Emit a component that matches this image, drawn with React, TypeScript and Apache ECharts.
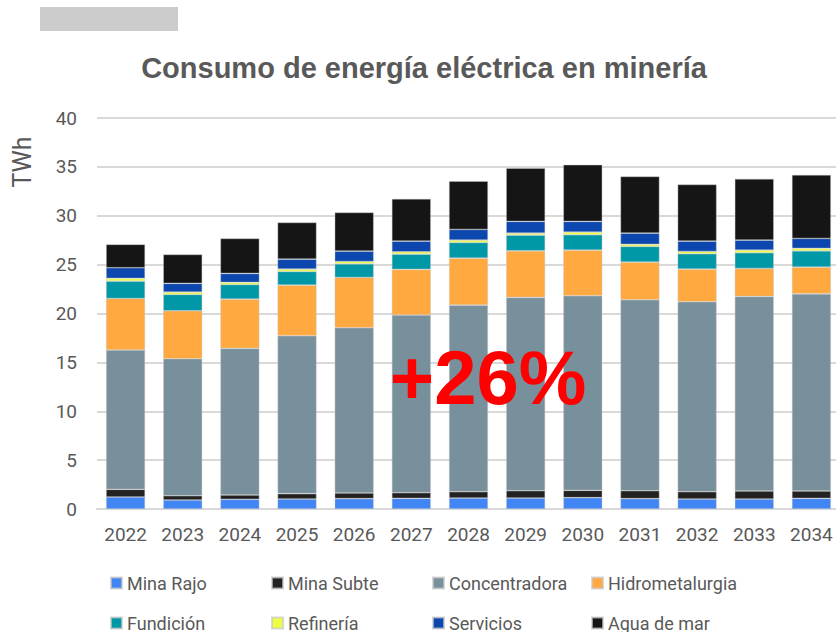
import React, { useEffect, useRef } from "react";
import * as echarts from "echarts";

const years = ["2022", "2023", "2024", "2025", "2026", "2027", "2028", "2029", "2030", "2031", "2032", "2033", "2034"];
const minaRajo = [1.23, 0.92, 0.99, 1.02, 1.06, 1.09, 1.12, 1.12, 1.16, 1.06, 1.02, 1.02, 1.09];
const minaSubte = [0.78, 0.44, 0.44, 0.55, 0.58, 0.58, 0.65, 0.75, 0.75, 0.81, 0.75, 0.82, 0.75];
const concentradora = [14.25, 14.01, 15.0, 16.15, 16.9, 18.17, 19.09, 19.78, 19.9, 19.53, 19.43, 19.91, 20.17];
const hidrometalurgia = [5.28, 4.91, 5.04, 5.18, 5.15, 4.67, 4.8, 4.76, 4.67, 3.86, 3.34, 2.86, 2.73];
const fundicion = [1.77, 1.67, 1.5, 1.4, 1.39, 1.56, 1.61, 1.61, 1.57, 1.6, 1.57, 1.6, 1.67];
const refineria = [0.28, 0.24, 0.21, 0.24, 0.24, 0.24, 0.24, 0.2, 0.27, 0.21, 0.24, 0.27, 0.25];
const servicios = [1.09, 0.89, 0.92, 1.02, 1.06, 1.09, 1.09, 1.2, 1.1, 1.15, 1.05, 1.03, 1.02];
const aguaDeMar = [2.39, 2.96, 3.58, 3.75, 3.96, 4.33, 4.94, 5.45, 5.79, 5.8, 5.8, 6.26, 6.5];

const seriesNames = ["Mina Rajo", "Mina Subte", "Concentradora", "Hidrometalurgia", "Fundición", "Refinería", "Servicios", "Agua de mar"];
const seriesData = [minaRajo, minaSubte, concentradora, hidrometalurgia, fundicion, refineria, servicios, aguaDeMar];
const seriesColors = ["#4285F4", "#222222", "#78909C", "#FFA940", "#0097A7", "#EEFF41", "#0B47AF", "#151515"];

const title = "Consumo de energía eléctrica en minería";
const yAxisName = "TWh";
const growthLabel = "+26%";

const TEXT = "#595959";
const FONT = "Roboto, 'Noto Sans', sans-serif";

export default function App() {
  const ref = useRef<HTMLDivElement>(null);
  useEffect(() => {
    if (!ref.current) return;
    const chart = echarts.init(ref.current, null, { renderer: "svg" });
    const legendCols = [110, 271, 432, 591];
    const legendRowTops = [573, 613];
    const legends = seriesNames.map((name, i) => ({
      left: legendCols[i % 4],
      top: legendRowTops[Math.floor(i / 4)],
      padding: 0,
      itemWidth: 11,
      itemHeight: 11,
      icon: "rect",
      selectedMode: false,
      data: [name],
      textStyle: { color: TEXT, fontSize: 18, fontFamily: FONT, lineHeight: 20 },
    }));
    chart.setOption({
      animation: false,
      backgroundColor: "#ffffff",
      grid: { left: 97, right: -4, top: 118, bottom: 123, containLabel: false },
      legend: legends,
      xAxis: {
        type: "category",
        data: years,
        axisLine: { show: true, lineStyle: { color: "#d9d9d9", width: 2 } },
        axisTick: { show: false },
        axisLabel: { color: TEXT, fontSize: 19, fontFamily: FONT, margin: 16 },
      },
      yAxis: {
        type: "value",
        min: 0,
        max: 40,
        interval: 5,
        axisLine: { show: false },
        axisTick: { show: false },
        splitLine: { lineStyle: { color: "#d9d9d9", width: 2 } },
        axisLabel: { color: TEXT, fontSize: 19, fontFamily: FONT, margin: 20 },
      },
      series: seriesNames.map((name, i) => ({
        name,
        type: "bar",
        stack: "total",
        barWidth: 39,
        data: seriesData[i],
        itemStyle: { color: seriesColors[i], borderColor: "rgba(200,200,200,0.7)", borderWidth: 0.6 },
      })),
      graphic: [
        { type: "rect", left: 40, top: 7, shape: { width: 138, height: 24 }, style: { fill: "#cccccc" } },
        {
          type: "text",
          x: 424,
          y: 68,
          style: { text: title, fill: TEXT, font: "bold 29px 'Liberation Sans', Arial, sans-serif", textAlign: "center", textVerticalAlign: "middle" },
        },
        {
          type: "text",
          x: 22,
          y: 162,
          rotation: Math.PI / 2,
          style: { text: yAxisName, fill: TEXT, font: `25px ${FONT}`, textAlign: "center", textVerticalAlign: "middle" },
        },
        {
          type: "text",
          x: 488,
          y: 377,
          z: 100,
          style: { text: growthLabel, fill: "#FF0000", font: "bold 76px 'Liberation Sans', Arial, sans-serif", textAlign: "center", textVerticalAlign: "middle" },
        },
      ],
    });
    return () => chart.dispose();
  }, []);
  return (
    <div style={{ position: "fixed", left: 0, top: 0, width: 836, height: 632, overflow: "hidden", background: "#fff" }}>
      <div ref={ref} style={{ width: 840, height: 632 }} />
    </div>
  );
}
